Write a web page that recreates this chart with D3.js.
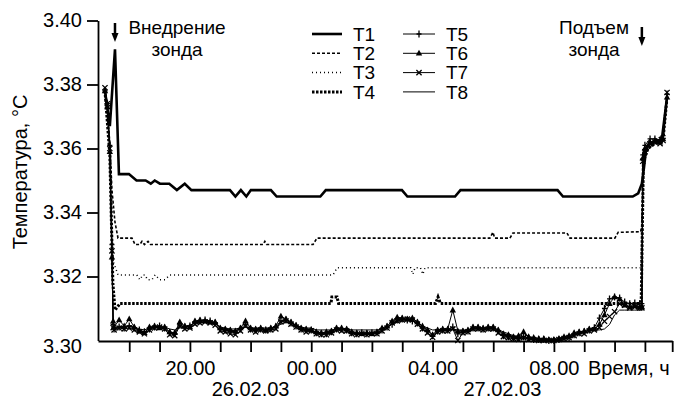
<!DOCTYPE html>
<html lang="ru">
<head>
<meta charset="UTF-8">
<title>Температура</title>
<script src="https://d3js.org/d3.v7.min.js"></script>
<style>
  body { margin: 0; background: #fff; }
  svg text { font-family: "Liberation Sans", Arial, sans-serif; fill: #000; }
</style>
</head>
<body>
<div id="chart"></div>
<script>
// hours are counted from 00:00 of 26.02.03 (24 = 00.00 of 27.02.03)
var t1 = [[17.20,3.378],[17.36,3.367],[17.53,3.391],[17.66,3.352],[17.99,3.352],[18.24,3.350],[18.54,3.350],[18.71,3.349],[18.84,3.350],[19.01,3.349],[19.32,3.349],[19.57,3.347],[19.83,3.349],[20.05,3.347],[21.32,3.347],[21.50,3.345],[21.68,3.347],[21.86,3.345],[22.01,3.347],[22.67,3.347],[22.86,3.345],[24.30,3.345],[24.48,3.347],[26.99,3.347],[27.17,3.345],[28.74,3.345],[28.92,3.347],[32.12,3.347],[32.30,3.345],[34.60,3.345],[34.78,3.346],[34.90,3.349],[34.97,3.354],[35.03,3.359],[35.10,3.361],[35.33,3.362],[35.56,3.363],[35.73,3.376]];
var t2 = [[17.20,3.378],[17.36,3.362],[17.43,3.347],[17.53,3.337],[17.63,3.332],[18.09,3.332],[18.19,3.330],[18.35,3.330],[18.42,3.331],[18.50,3.330],[18.62,3.331],[18.70,3.330],[22.41,3.330],[22.47,3.331],[22.53,3.330],[24.06,3.330],[24.19,3.332],[29.89,3.332],[29.99,3.3338],[30.05,3.332],[30.55,3.332],[30.65,3.3336],[32.43,3.3336],[32.53,3.332],[34.01,3.332],[34.12,3.3338],[34.86,3.334],[34.90,3.336],[34.95,3.356],[35.10,3.361],[35.40,3.363],[35.60,3.364],[35.72,3.376]];
var t3 = [[17.20,3.378],[17.36,3.360],[17.46,3.325],[17.63,3.3205],[18.25,3.3205],[18.35,3.319],[18.45,3.3205],[18.52,3.3205],[18.60,3.319],[18.75,3.319],[18.85,3.3205],[19.01,3.319],[19.18,3.319],[19.34,3.3205],[24.72,3.3205],[24.85,3.3227],[27.28,3.3227],[27.35,3.3207],[27.42,3.3227],[27.60,3.3227],[27.68,3.3207],[27.75,3.3227],[34.86,3.3227],[34.92,3.335],[34.97,3.357],[35.10,3.360],[35.40,3.362],[35.60,3.363],[35.72,3.375]];
var t4 = [[17.20,3.378],[17.36,3.358],[17.46,3.318],[17.53,3.3095],[17.70,3.3116],[24.65,3.3116],[24.68,3.3136],[24.85,3.3136],[24.90,3.3116],[28.10,3.3116],[28.18,3.3136],[28.26,3.3116],[34.84,3.3116],[34.88,3.313],[34.95,3.356],[35.10,3.360],[35.40,3.362],[35.60,3.363],[35.72,3.375]];

// T5..T8 share one time base: the dive, then readings every 10 minutes, then the lift
var clusterTimes = [17.20, 17.28, 17.36, 17.43, 17.47]
  .concat(d3.range(105).map(function(i) { return 17.5 + i / 6; }))
  .concat([34.90, 34.93, 35.00, 35.17, 35.33, 35.50, 35.60, 35.73]);

var t5 = [3.378,3.374,3.361,3.330,3.305,
  3.3036,3.3042,3.3039,3.3045,3.3039,3.3033,3.3027,3.3036,3.3042,3.3045,
  3.3039,3.3024,3.3021,3.3048,3.3042,3.3045,3.3057,3.3061,3.3064,3.3061,
  3.3055,3.3036,3.3033,3.3030,3.3027,3.3036,3.3051,3.3036,3.3033,3.3036,
  3.3033,3.3036,3.3042,3.3061,3.3064,3.3055,3.3045,3.3036,3.3033,3.3033,
  3.3024,3.3021,3.3021,3.3027,3.3036,3.3036,3.3033,3.3024,3.3021,3.3024,
  3.3021,3.3024,3.3024,3.3033,3.3042,3.3051,3.3064,3.3067,3.3064,3.3061,
  3.3055,3.3039,3.3030,3.3015,3.3030,3.3033,3.3033,3.3042,3.3021,3.3027,
  3.3030,3.3039,3.3039,3.3036,3.3039,3.3039,3.3030,3.3015,3.3012,3.3009,
  3.3006,3.3012,3.3006,3.3003,3.3003,3.3003,3.3000,3.3000,3.3003,3.3006,
  3.3009,3.3018,3.3024,3.3027,3.3033,3.3040,3.3070,3.3100,3.3130,3.3136,
  3.3133,3.3120,3.3115,3.3117,3.3115,
  3.3115,3.358,3.361,3.363,3.363,3.3625,3.364,3.377];
var t6 = [3.378,3.373,3.359,3.326,3.306,
  3.3042,3.3064,3.3045,3.3067,3.3042,3.3030,3.3024,3.3042,3.3045,3.3039,
  3.3042,3.3027,3.3024,3.3058,3.3045,3.3042,3.3061,3.3064,3.3061,3.3058,
  3.3058,3.3039,3.3036,3.3033,3.3030,3.3039,3.3061,3.3039,3.3036,3.3039,
  3.3033,3.3039,3.3045,3.3076,3.3067,3.3058,3.3048,3.3039,3.3036,3.3033,
  3.3027,3.3024,3.3027,3.3030,3.3039,3.3039,3.3036,3.3027,3.3024,3.3021,
  3.3024,3.3021,3.3027,3.3039,3.3045,3.3061,3.3073,3.3070,3.3067,3.3070,
  3.3058,3.3045,3.3033,3.3018,3.3033,3.3036,3.3036,3.3095,3.3030,3.3030,
  3.3033,3.3042,3.3042,3.3039,3.3042,3.3042,3.3033,3.3021,3.3018,3.3012,
  3.3015,3.3027,3.3012,3.3009,3.3006,3.3006,3.3003,3.3003,3.3006,3.3012,
  3.3015,3.3024,3.3027,3.3030,3.3036,3.3036,3.3050,3.3080,3.3115,3.3136,
  3.3130,3.3110,3.3105,3.3108,3.3105,
  3.3105,3.357,3.360,3.362,3.3625,3.362,3.363,3.376];
var t7 = [3.379,3.374,3.360,3.328,3.304,
  3.3033,3.3039,3.3036,3.3039,3.3033,3.3027,3.3021,3.3033,3.3039,3.3042,
  3.3036,3.3018,3.3015,3.3045,3.3036,3.3039,3.3051,3.3055,3.3058,3.3055,
  3.3048,3.3030,3.3027,3.3021,3.3018,3.3030,3.3045,3.3033,3.3027,3.3033,
  3.3030,3.3033,3.3036,3.3058,3.3061,3.3051,3.3042,3.3033,3.3027,3.3030,
  3.3021,3.3018,3.3018,3.3024,3.3033,3.3030,3.3030,3.3021,3.3018,3.3021,
  3.3018,3.3021,3.3021,3.3030,3.3039,3.3055,3.3061,3.3064,3.3067,3.3064,
  3.3051,3.3036,3.3024,3.3010,3.3027,3.3030,3.3030,3.3036,3.3000,3.3024,
  3.3027,3.3036,3.3036,3.3033,3.3036,3.3036,3.3024,3.3012,3.3009,3.3006,
  3.3003,3.3009,3.3003,3.3003,3.3000,3.3000,3.3000,3.3000,3.3003,3.3006,
  3.3009,3.3015,3.3021,3.3021,3.3030,3.3033,3.3040,3.3060,3.3075,3.3090,
  3.3115,3.3110,3.3102,3.3105,3.3102,
  3.3102,3.356,3.359,3.3615,3.362,3.3615,3.3625,3.3775];
var t8 = [3.378,3.372,3.358,3.324,3.305,
  3.3039,3.3045,3.3042,3.3048,3.3042,3.3036,3.3033,3.3039,3.3042,3.3042,
  3.3042,3.3036,3.3033,3.3045,3.3045,3.3048,3.3054,3.3057,3.3057,3.3057,
  3.3054,3.3042,3.3039,3.3036,3.3036,3.3039,3.3042,3.3039,3.3039,3.3039,
  3.3039,3.3039,3.3042,3.3051,3.3057,3.3054,3.3048,3.3042,3.3039,3.3039,
  3.3033,3.3033,3.3033,3.3033,3.3036,3.3036,3.3036,3.3033,3.3033,3.3033,
  3.3033,3.3033,3.3033,3.3036,3.3042,3.3051,3.3057,3.3061,3.3061,3.3061,
  3.3054,3.3045,3.3039,3.3033,3.3033,3.3033,3.3033,3.3036,3.3033,3.3033,
  3.3033,3.3033,3.3033,3.3033,3.3033,3.3033,3.3033,3.3027,3.3021,3.3015,
  3.3012,3.3024,3.3010,3.3003,3.3003,3.3003,3.3003,3.3003,3.3003,3.3006,
  3.3009,3.3018,3.3024,3.3024,3.3033,3.3033,3.3033,3.3036,3.3050,3.3080,
  3.3095,3.3095,3.3095,3.3095,3.3095,
  3.3095,3.355,3.358,3.3605,3.3615,3.3615,3.362,3.376];

var yTicks = [3.30, 3.32, 3.34, 3.36, 3.38, 3.40];
var xTicks = d3.range(18, 36);          // hourly ticks 18.00 ... 11.00
var xLabelled = [20, 24, 28, 32];       // 20.00, 00.00, 04.00, 08.00
var dates = [{ t: 22, label: "26.02.03" }, { t: 30.3, label: "27.02.03" }];

var width = 675, height = 401;
var x = d3.scaleLinear().domain([16.97, 35.9]).range([98, 672.2]);
var y = d3.scaleLinear().domain([3.30, 3.40]).range([340.5, 20.5]);

var svg = d3.select("#chart").append("svg")
  .attr("width", width).attr("height", height)
  .style("display", "block");

// y axis
var yAxis = svg.append("g")
  .attr("transform", "translate(98,0)")
  .call(d3.axisLeft(y).tickValues(yTicks.slice(1)).tickSize(11).tickSizeOuter(0)
    .tickPadding(5).tickFormat(d3.format(".2f")));
yAxis.append("text")
  .attr("class", "zero")
  .attr("x", -16).attr("y", y(yTicks[0]) + 6).attr("dy", "0.32em")
  .attr("text-anchor", "end")
  .style("font-size", "20px")
  .text(d3.format(".2f")(yTicks[0]));

// x axis
var xAxis = svg.append("g")
  .attr("transform", "translate(0,341)")
  .call(d3.axisBottom(x).tickValues(xTicks.concat([35.9])).tickSize(11).tickSizeOuter(0)
    .tickPadding(9)
    .tickFormat(function(d) {
      return xLabelled.indexOf(d) >= 0 ? d3.format("02")(d % 24) + ".00" : "";
    }));

svg.selectAll(".tick text").style("font-size", "20px").attr("fill", "#000")
  .style("font-family", '"Liberation Sans", Arial, sans-serif');
svg.selectAll(".domain, .tick line").attr("stroke", "#000").attr("stroke-width", 1.8);

svg.append("text").attr("x", 588).attr("y", 375)
  .style("font-size", "20px").text("Время, ч");
svg.selectAll(".date").data(dates).enter().append("text")
  .attr("class", "date")
  .attr("x", function(d) { return x(d.t); }).attr("y", 396)
  .attr("text-anchor", "middle").style("font-size", "20px")
  .text(function(d) { return d.label; });

svg.append("text")
  .attr("transform", "translate(20,172) rotate(-90)")
  .attr("text-anchor", "middle").attr("dominant-baseline", "central")
  .style("font-size", "20px").text("Температура, °C");

// lines
var line = d3.line()
  .x(function(d) { return x(d[0]); })
  .y(function(d) { return y(d[1]); });

function pairs(vals) {
  return vals.map(function(v, i) { return [clusterTimes[i], v]; });
}

var series = [
  { name: "T1", data: t1, width: 2.6, dash: null, mark: null },
  { name: "T2", data: t2, width: 1.6, dash: "3,2", mark: null },
  { name: "T3", data: t3, width: 1.5, dash: "1,3", mark: null },
  { name: "T4", data: t4, width: 3, dash: "2.5,1.5", mark: null },
  { name: "T5", data: pairs(t5), width: 1, dash: null, mark: "plus" },
  { name: "T6", data: pairs(t6), width: 1, dash: null, mark: "tri" },
  { name: "T7", data: pairs(t7), width: 1, dash: null, mark: "cross" },
  { name: "T8", data: pairs(t8), width: 1, dash: null, mark: null }
];

function drawMark(g, type) {
  if (type === "plus") {
    g.append("path").attr("d", "M-2.5,0H2.5M0,-3.5V3.5").attr("stroke", "#000").attr("stroke-width", 1.3);
  } else if (type === "tri") {
    g.append("path").attr("d", "M0,-3.5L3.2,2.3L-3.2,2.3Z").attr("fill", "#000");
  } else if (type === "cross") {
    g.append("path").attr("d", "M-2.6,-2.6L2.6,2.6M-2.6,2.6L2.6,-2.6").attr("stroke", "#000").attr("stroke-width", 1.3);
  }
}

series.slice().reverse().forEach(function(s) {
  svg.append("path")
    .datum(s.data)
    .attr("fill", "none")
    .attr("stroke", "#000")
    .attr("stroke-width", s.width)
    .attr("stroke-dasharray", s.dash)
    .attr("d", line);
  if (s.mark) {
    svg.selectAll(null).data(s.data).enter().append("g")
      .attr("transform", function(d) { return "translate(" + x(d[0]) + "," + y(d[1]) + ")"; })
      .each(function() { drawMark(d3.select(this), s.mark); });
  }
});

// legend
var legend = svg.append("g");
series.forEach(function(s, i) {
  var col = Math.floor(i / 4), row = i % 4;
  var lx = col === 0 ? 312 : 403, ly = 34 + row * 19.3;
  var lw = col === 0 ? 30 : 32;
  legend.append("line")
    .attr("x1", lx).attr("x2", lx + lw).attr("y1", ly).attr("y2", ly)
    .attr("stroke", "#000").attr("stroke-width", s.width)
    .attr("stroke-dasharray", s.dash);
  if (s.mark) {
    var g = legend.append("g").attr("transform", "translate(" + (lx + lw / 2) + "," + ly + ")");
    drawMark(g, s.mark);
  }
  legend.append("text")
    .attr("x", lx + lw + 11).attr("y", ly).attr("dy", "0.35em")
    .style("font-size", "19px").text(s.name);
});

// annotations
var notes = [
  { t: 17.53, cx: 177, lines: ["Внедрение", "зонда"], top: 23 },
  { t: 34.90, cx: 594, lines: ["Подъем", "зонда"], top: 27 }
];
notes.forEach(function(n) {
  var ax = x(n.t);
  svg.append("line").attr("x1", ax).attr("x2", ax)
    .attr("y1", n.top).attr("y2", n.top + 12)
    .attr("stroke", "#000").attr("stroke-width", 2.5);
  svg.append("path")
    .attr("d", "M" + (ax - 3.5) + "," + (n.top + 10) + "L" + (ax + 3.5) + "," + (n.top + 10) +
      "L" + ax + "," + (n.top + 19) + "Z")
    .attr("fill", "#000");
  n.lines.forEach(function(txt, k) {
    svg.append("text").attr("x", n.cx).attr("y", 34 + k * 21.5)
      .attr("text-anchor", "middle").style("font-size", "19px").text(txt);
  });
});
</script>
</body>
</html>
